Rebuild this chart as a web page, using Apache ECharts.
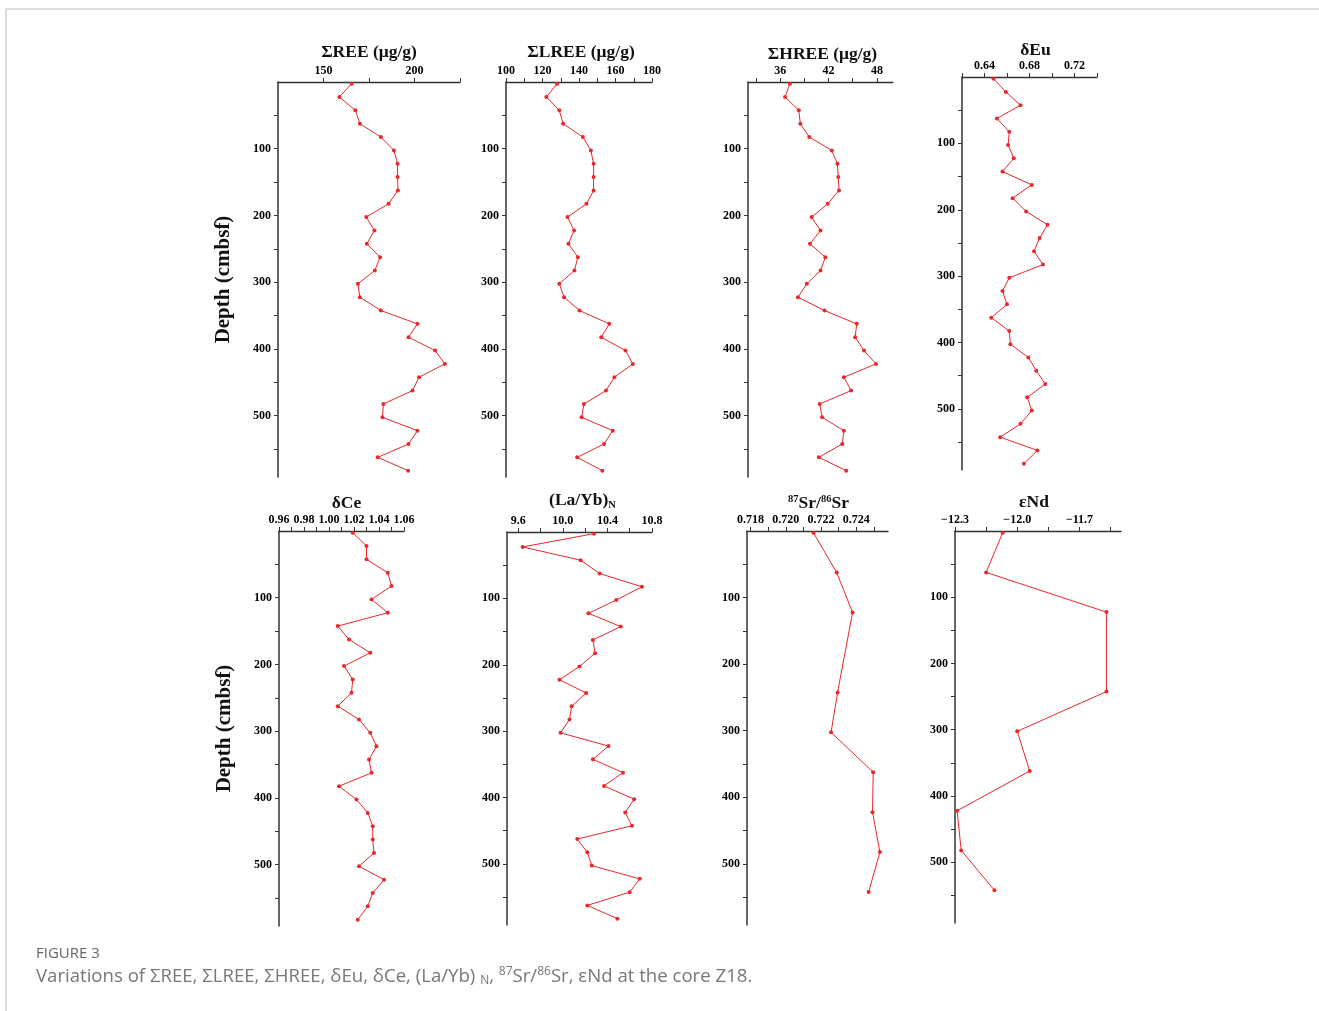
<!DOCTYPE html>
<html>
<head>
<meta charset="utf-8">
<script src="https://cdn.jsdelivr.net/npm/echarts@6/dist/echarts.min.js"></script>
<style>
html,body{margin:0;padding:0;background:#fff;}
#chart{width:1319px;height:1011px;}
</style>
</head>
<body>
<div id="chart"></div>
<script>
// ---- Data (depth in cmbsf) ----
const depths = [2.5,22.5,42.5,62.5,82.5,102.5,122.5,142.5,162.5,182.5,202.5,222.5,242.5,262.5,282.5,302.5,322.5,342.5,362.5,382.5,402.5,422.5,442.5,462.5,482.5,502.5,522.5,542.5,562.5,582.5];
const depthsIso = [2.5,62.5,122.5,242.5,302.5,362.5,422.5,482.5,542.5];

const sumREE = [165.5,158.7,167.5,170.0,181.5,188.7,190.7,190.7,190.9,185.8,173.5,178.0,173.8,181.1,178.2,168.9,170.0,181.5,201.6,196.7,211.3,216.7,202.5,198.9,182.9,182.4,201.6,196.7,179.8,196.5];
const sumLREE = [128.0,122.1,129.2,131.3,142.1,146.5,148.0,148.0,148.0,144.1,133.7,137.3,134.2,139.4,137.5,129.2,131.8,140.3,156.6,152.2,165.5,169.5,159.4,154.8,142.7,141.4,158.5,153.7,139.0,152.8];
const sumHREE = [37.2,36.6,38.3,38.5,39.6,42.4,43.1,43.2,43.3,41.9,39.9,41.0,39.7,41.6,41.0,39.3,38.2,41.5,45.5,45.3,46.4,47.9,43.9,44.8,40.9,41.2,43.9,43.7,40.8,44.2];
const deltaEu = [0.648,0.659,0.672,0.651,0.662,0.661,0.666,0.656,0.682,0.665,0.677,0.696,0.689,0.684,0.692,0.662,0.656,0.660,0.646,0.662,0.663,0.679,0.686,0.694,0.678,0.682,0.672,0.654,0.687,0.675];
const deltaCe = [1.019,1.030,1.030,1.047,1.050,1.034,1.047,1.007,1.016,1.033,1.012,1.019,1.018,1.007,1.024,1.033,1.038,1.032,1.034,1.008,1.022,1.031,1.035,1.035,1.036,1.024,1.044,1.035,1.031,1.023];
const laYbN = [10.28,9.64,10.16,10.33,10.71,10.48,10.23,10.52,10.27,10.29,10.15,9.97,10.21,10.08,10.06,9.98,10.41,10.27,10.54,10.37,10.64,10.56,10.62,10.13,10.22,10.26,10.69,10.60,10.22,10.49];
const srRatio = [0.72157,0.72289,0.72379,0.72294,0.72257,0.72496,0.72492,0.72534,0.72470];
const epsNd = [-12.07,-12.15,-11.57,-11.57,-12.00,-11.94,-12.29,-12.27,-12.11];

// ---- Axis tick labels ----
const ticksREE = [150,200];
const ticksLREE = [100,120,140,160,180];
const ticksHREE = [36,42,48];
const ticksEu = [0.64,0.68,0.72];
const ticksCe = [0.96,0.98,1.00,1.02,1.04,1.06];
const ticksLaYb = [9.6,10.0,10.4,10.8];
const ticksSr = [0.718,0.720,0.722,0.724];
const ticksNd = [-12.3,-12.0,-11.7];
const depthTicks = [100,200,300,400,500];

// ---- Styling / layout (not data) ----
const RED = '#e8282b';
const AX = '#333';
const SERIF = '"Liberation Serif","Times New Roman",serif';
const TFS = 17.5;

function range(a, b, step, dec) {
  const out = [];
  for (let v = a; v <= b + step * 1e-6; v += step) out.push(+v.toFixed(dec));
  return out;
}

const panels = [
  {g:{left:278, top:82, width:182, height:395}, name:'ΣREE (μg/g)', gap:21, dx:0, min:125, max:225, labels:ticksREE, ticks:[150,175,200,225], dec:0, data:sumREE, d:depths, yname:true},
  {g:{left:506, top:82, width:146, height:395}, name:'ΣLREE (μg/g)', gap:21, dx:2, min:100, max:180, labels:ticksLREE, ticks:range(100,180,10,0), dec:0, data:sumLREE, d:depths},
  {g:{left:748, top:82, width:145, height:395}, name:'ΣHREE (μg/g)', gap:19, dx:2, min:32, max:50, labels:ticksHREE, ticks:range(33,48,3,0), dec:0, data:sumHREE, d:depths},
  {g:{left:962, top:77, width:135, height:393}, name:'δEu', gap:18, dx:6, min:0.62, max:0.74, labels:ticksEu, ticks:range(0.62,0.74,0.02,2), dec:2, data:deltaEu, d:depths},
  {g:{left:279, top:531, width:125, height:395}, name:'δCe', gap:19, dx:5, min:0.96, max:1.06, labels:ticksCe, ticks:range(0.96,1.06,0.01,2), dec:2, data:deltaCe, d:depths, yname:true},
  {g:{left:507, top:532, width:145, height:393}, name:'{b|(La/Yb)}{sub|N}', gap:21, dx:3, min:9.5, max:10.8, labels:ticksLaYb, ticks:range(9.6,10.8,0.2,1), dec:1, data:laYbN, d:depths},
  {g:{left:747, top:531, width:141, height:394}, name:'{sup|87}{b|Sr/}{sup|86}{b|Sr}', gap:18, dx:1, min:0.7178, max:0.7258, labels:ticksSr, ticks:range(0.718,0.725,0.001,3), dec:3, data:srRatio, d:depthsIso},
  {g:{left:955, top:531, width:166, height:392}, name:'εNd', gap:20, dx:-4, min:-12.3, max:-11.5, labels:ticksNd, ticks:range(-12.3,-11.55,0.15,2), dec:1, data:epsNd, d:depthsIso}
];

const grid = [], xAxis = [], yAxis = [], series = [];
panels.forEach((p, i) => {
  grid.push(Object.assign({containLabel:false}, p.g));
  const pad = p.dx >= 0 ? [0,0,0,2*p.dx] : [0,-2*p.dx,0,0];
  xAxis.push({
    gridIndex:i, type:'value', position:'top', min:p.min, max:p.max,
    name:p.name, nameLocation:'middle', nameGap:p.gap,
    nameTextStyle:{
      fontFamily:SERIF, fontWeight:'bold', fontSize:TFS, color:'#111', padding:pad,
      rich:{
        b:{fontFamily:SERIF, fontWeight:'bold', fontSize:TFS, color:'#111'},
        sup:{fontFamily:SERIF, fontWeight:'bold', fontSize:10.5, color:'#111', verticalAlign:'top', padding:[0,0,8,0]},
        sub:{fontFamily:SERIF, fontWeight:'bold', fontSize:10.5, color:'#111', padding:[10,0,0,0]}
      }
    },
    splitLine:{show:false},
    axisLine:{show:true, onZero:false, lineStyle:{color:AX, width:1.3}},
    axisTick:{show:true, inside:false, length:4, customValues:p.ticks, lineStyle:{color:AX}},
    axisLabel:{
      customValues:p.labels, margin:5, fontFamily:SERIF, fontWeight:'bold', fontSize:12, color:'#000',
      formatter:(v)=>{ const s = (+v).toFixed(p.dec); return s.replace('-', '\u2212'); }
    }
  });
  yAxis.push({
    gridIndex:i, type:'value', inverse:true, min:0, max:592,
    name:p.yname ? 'Depth (cmbsf)' : '', nameLocation:'middle', nameGap:44,
    nameTextStyle:{fontFamily:SERIF, fontWeight:'bold', fontSize:21, color:'#111'},
    splitLine:{show:false},
    axisLine:{show:true, onZero:false, lineStyle:{color:AX, width:1.5}},
    axisTick:{show:true, inside:false, length:4, customValues:[50,100,150,200,250,300,350,400,450,500,550], lineStyle:{color:AX}},
    axisLabel:{customValues:depthTicks, margin:7, fontFamily:SERIF, fontWeight:'bold', fontSize:12, color:'#000'}
  });
  series.push({
    type:'line', xAxisIndex:i, yAxisIndex:i,
    data:p.data.map((v, k) => [v, p.d[k]]),
    symbol:'circle', symbolSize:4, showSymbol:true,
    lineStyle:{color:RED, width:1}, itemStyle:{color:RED},
    animation:false, silent:true
  });
});

const chart = echarts.init(document.getElementById('chart'), null, {renderer:'canvas'});
chart.setOption({
  backgroundColor:'#fff',
  animation:false,
  grid, xAxis, yAxis, series,
  graphic:[
    {type:'line', shape:{x1:6, y1:9, x2:1319, y2:9}, style:{stroke:'#cfcfcf', lineWidth:1.5}},
    {type:'line', shape:{x1:6, y1:9, x2:6, y2:1011}, style:{stroke:'#cfcfcf', lineWidth:1.5}},
    {type:'text', left:36, top:946, style:{text:'FIGURE 3', font:'15px "Open Sans", sans-serif', fill:'#666'}},
    {type:'text', left:36, top:966, style:{
      text:'{t|Variations of ΣREE, ΣLREE, ΣHREE, δEu, δCe, (La/Yb) }{s|N}{t|, }{p|87}{t|Sr/}{p|86}{t|Sr, εNd at the core Z18.}',
      rich:{
        t:{font:'18.6px "Open Sans", sans-serif', fill:'#777'},
        s:{font:'12px "Open Sans", sans-serif', fill:'#777', padding:[9,0,0,0]},
        p:{font:'12px "Open Sans", sans-serif', fill:'#777', padding:[0,0,9,0]}
      }
    }}
  ]
});
</script>
</body>
</html>
